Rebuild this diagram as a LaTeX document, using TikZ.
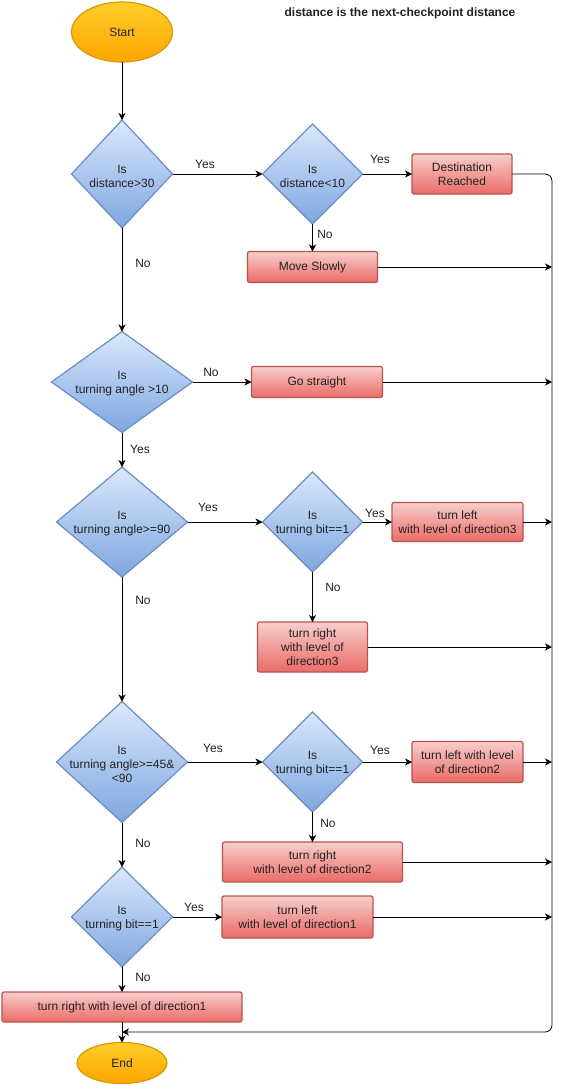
\documentclass[tikz,border=0pt]{standalone}
\usepackage{fontspec}
\setmainfont{Liberation Sans}
\usetikzlibrary{shapes.geometric,arrows.meta}
\definecolor{bfa}{HTML}{DAE8FC}\definecolor{bfb}{HTML}{7EA6E0}\definecolor{bln}{HTML}{6C8EBF}
\definecolor{rfa}{HTML}{F8CECC}\definecolor{rfb}{HTML}{EA6B66}\definecolor{rln}{HTML}{B85450}
\definecolor{yfa}{HTML}{FFCD28}\definecolor{yfb}{HTML}{FFA500}\definecolor{yln}{HTML}{D79B00}
\definecolor{txt}{HTML}{222222}
\begin{document}
\begin{tikzpicture}[x=1pt,y=-1pt, font=\fontsize{12}{14}\selectfont, text=txt,
 dec/.style={diamond, draw=bln, line width=1.2pt, top color=bfa, bottom color=bfb, inner sep=0pt, outer sep=0pt},
 proc/.style={rectangle, draw=rln, line width=1.2pt, top color=rfa, bottom color=rfb, rounded corners=2pt, align=center, inner sep=0pt, outer sep=0pt},
 term/.style={ellipse, draw=yln, line width=1.2pt, top color=yfa, bottom color=yfb, inner sep=0pt, outer sep=0pt},
 arr/.style={-{Stealth[length=7pt,width=7pt,inset=2pt]}, line width=0.8pt, black},
 lbl/.style={inner sep=0pt},
 dtext/.style={label={[align=center,inner sep=0pt,text=txt,yshift=-2pt]center:#1}}
]
\fill[white] (0,0) rectangle (562,1085);
\useasboundingbox (0,0) rectangle (562,1085);

\node[lbl, font=\bfseries\fontsize{12}{14}\selectfont] (title) at (400,13) {distance is the next-checkpoint distance};

\node[term, minimum width=101pt, minimum height=60pt] (start) at (122,32) {Start};
\node[dec, minimum width=101pt, minimum height=108pt, dtext={Is\\distance>30}] (d1) at (122,174) {};
\node[dec, minimum width=100pt, minimum height=100pt, dtext={Is\\distance<10}] (d2) at (312.5,174) {};
\node[proc, minimum width=100pt, minimum height=40pt] (dest) at (462,174) {Destination\\Reached};
\node[proc, minimum width=130pt, minimum height=31pt] (move) at (312.5,267) {Move Slowly};
\node[dec, minimum width=141pt, minimum height=101pt, dtext={Is\\turning angle >10}] (d3) at (122,382) {};
\node[proc, minimum width=131pt, minimum height=31pt] (go) at (317,382) {Go straight};
\node[dec, minimum width=131pt, minimum height=110pt, dtext={Is\\turning angle>=90}] (d4) at (122,522) {};
\node[dec, minimum width=100pt, minimum height=100pt, dtext={Is\\turning bit==1}] (d5) at (312.5,522) {};
\node[proc, minimum width=131pt, minimum height=39pt] (tl3) at (457.5,522) {turn left\\with level of direction3};
\node[proc, minimum width=110pt, minimum height=50pt] (tr3) at (312.5,647) {turn right\\with level of\\direction3};
\node[dec, minimum width=131pt, minimum height=121pt, dtext={Is\\turning angle>=45\&\\<90}] (d6) at (122,762) {};
\node[dec, minimum width=100pt, minimum height=100pt, dtext={Is\\turning bit==1}] (d7) at (312.5,762) {};
\node[proc, minimum width=111pt, minimum height=41pt] (tl2) at (467.5,762) {turn left with level\\of direction2};
\node[proc, minimum width=180pt, minimum height=40pt] (tr2) at (312.5,862) {turn right\\with level of direction2};
\node[dec, minimum width=101pt, minimum height=100pt, dtext={Is\\turning bit==1}] (d8) at (122,917) {};
\node[proc, minimum width=151pt, minimum height=42pt] (tl1) at (297.5,917) {turn left\\with level of direction1};
\node[proc, minimum width=240pt, minimum height=30pt] (tr1) at (122,1007) {turn right with level of direction1};
\node[term, minimum width=90pt, minimum height=41pt] (end) at (122,1063) {End};

\node[lbl] (l1) at (205,164) {Yes};
\node[lbl] (l2) at (380,159) {Yes};
\node[lbl] (l3) at (325,234) {No};
\node[lbl] (l4) at (143,263) {No};
\node[lbl] (l5) at (211,372) {No};
\node[lbl] (l6) at (140,449) {Yes};
\node[lbl] (l7) at (208,507) {Yes};
\node[lbl] (l8) at (375,513) {Yes};
\node[lbl] (l9) at (333,587) {No};
\node[lbl] (l10) at (143,600) {No};
\node[lbl] (l11) at (213,748) {Yes};
\node[lbl] (l12) at (380,750) {Yes};
\node[lbl] (l13) at (328,823) {No};
\node[lbl] (l14) at (143,843) {No};
\node[lbl] (l15) at (194,907) {Yes};
\node[lbl] (l16) at (143,977) {No};

\coordinate (bt) at (552,174);
\coordinate (bb) at (552,1032);
\coordinate (jn) at (122,1032);

\draw[arr] (start) -- (d1);
\draw[arr] (d1.east) -- (d2.west);
\draw[arr] (d2.east) -- (dest.west);
\draw[arr] (d2.south) -- (move.north);
\draw[arr] (d1.south) -- (d3.north);
\draw[arr] (d3.east) -- (go.west);
\draw[arr] (d3.south) -- (d4.north);
\draw[arr] (d4.east) -- (d5.west);
\draw[arr] (d5.east) -- (tl3.west);
\draw[arr] (d5.south) -- (tr3.north);
\draw[arr] (d4.south) -- (d6.north);
\draw[arr] (d6.east) -- (d7.west);
\draw[arr] (d7.east) -- (tl2.west);
\draw[arr] (d7.south) -- (tr2.north);
\draw[arr] (d6.south) -- (d8.north);
\draw[arr] (d8.east) -- (tl1.west);
\draw[arr] (d8.south) -- (tr1.north);
\draw[arr] (tr1.south) -- (end.north);

\draw[arr, rounded corners=7pt] (dest.east) -- (bt) -- (bb) -- (jn);
\draw[arr] (move.east) -- (move.east -| bt);
\draw[arr] (go.east) -- (go.east -| bt);
\draw[arr] (tl3.east) -- (tl3.east -| bt);
\draw[arr] (tr3.east) -- (tr3.east -| bt);
\draw[arr] (tl2.east) -- (tl2.east -| bt);
\draw[arr] (tr2.east) -- (tr2.east -| bt);
\draw[arr] (tl1.east) -- (tl1.east -| bt);
\end{tikzpicture}
\end{document}
